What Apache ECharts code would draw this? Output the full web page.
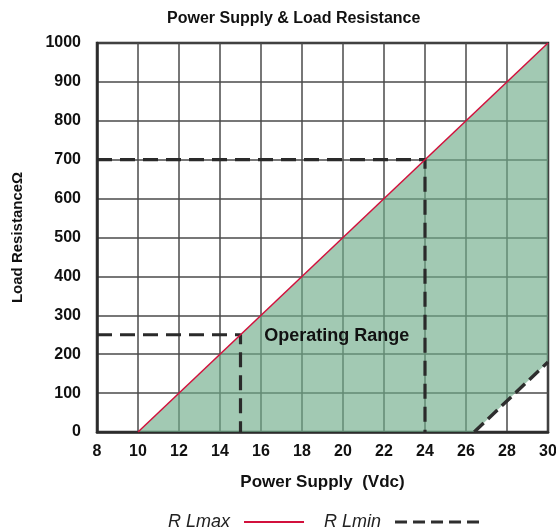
<!DOCTYPE html>
<html>
<head>
<meta charset="utf-8">
<script src="https://cdn.jsdelivr.net/npm/echarts@6/dist/echarts.min.js"></script>
<style>html,body{margin:0;padding:0;background:#fff;}#c{width:556px;height:529px;}</style>
</head>
<body>
<div id="c"></div>
<script>
// Data
const xTicks = [8, 10, 12, 14, 16, 18, 20, 22, 24, 26, 28, 30];
const yTicks = [0, 100, 200, 300, 400, 500, 600, 700, 800, 900, 1000];
const rLmax = [[10, 0], [30, 1000]];
const rLmin = [[26.4, 0], [30, 180]];
const operatingRange = [[10, 0], [30, 1000], [30, 180], [26.4, 0]];
const guide24 = [[8, 700], [24, 700], [24, 0]];
const guide15 = [[8, 250], [15, 250], [15, 0]];
const rangeLabel = [[19.7, 247]];

const FONT = '"Liberation Sans", Arial, Helvetica, sans-serif';
const chart = echarts.init(document.getElementById('c'));
chart.setOption({
  animation: false,
  backgroundColor: '#fff',
  title: {
    text: 'Power Supply & Load Resistance',
    top: 11, left: 167,
    padding: 0,
    textStyle: { fontFamily: FONT, fontWeight: 'bold', fontSize: 16, color: '#111' }
  },
  grid: { left: 97, right: 8, top: 43, bottom: 97, outerBoundsMode: 'none', containLabel: false,
    show: true, borderColor: '#2b2b2b', borderWidth: 2.5, backgroundColor: 'transparent' },
  legend: [
    { data: [{ name: 'R Lmax', icon: 'rect' }], left: 163, top: 508, align: 'right', itemWidth: 60, itemHeight: 2, itemGap: 0,
      textStyle: { fontFamily: FONT, fontStyle: 'italic', fontSize: 18, color: '#222', padding: [0, 9, 0, 0] }, selectedMode: false },
    { data: [{ name: 'R Lmin', icon: 'path://M0,0h12v3h-12z M18,0h12v3h-12z M36,0h12v3h-12z M54,0h12v3h-12z M72,0h12v3h-12z' }],
      left: 319, top: 508, align: 'right', itemWidth: 84, itemHeight: 3, itemGap: 0,
      textStyle: { fontFamily: FONT, fontStyle: 'italic', fontSize: 18, color: '#222', padding: [0, 9, 0, 0] }, selectedMode: false }
  ],
  xAxis: {
    type: 'value', min: 8, max: 30, interval: 2,
    name: 'Power Supply  (Vdc)', nameLocation: 'middle', nameGap: 42,
    nameTextStyle: { fontFamily: FONT, fontWeight: 'bold', fontSize: 17, color: '#111' },
    axisLine: { show: true, lineStyle: { color: '#2b2b2b', width: 2.5 } },
    axisTick: { show: false },
    axisLabel: { fontFamily: FONT, fontWeight: 'bold', fontSize: 16, color: '#111', margin: 12,
      formatter: v => xTicks.includes(v) ? String(v) : '' },
    splitLine: { show: true, lineStyle: { color: '#4a4a4a', width: 1.5 } }
  },
  yAxis: {
    type: 'value', min: 0, max: 1000, interval: 100,
    name: 'Load ResistanceΩ', nameLocation: 'middle', nameGap: 72, nameRotate: 90,
    nameTextStyle: { fontFamily: FONT, fontWeight: 'bold', fontSize: 15, color: '#111' },
    axisLine: { show: true, lineStyle: { color: '#2b2b2b', width: 2.5 } },
    axisTick: { show: false },
    axisLabel: { fontFamily: FONT, fontWeight: 'bold', fontSize: 16, color: '#111', margin: 16,
      formatter: v => yTicks.includes(v) ? String(v) : '' },
    splitLine: { show: true, lineStyle: { color: '#4a4a4a', width: 1.5 } }
  },
  series: [
    {
      type: 'custom', name: 'area', silent: true, z: 1,
      data: [0],
      renderItem: function (params, api) {
        const pts = operatingRange.map(p => api.coord(p));
        return { type: 'polygon', shape: { points: pts }, style: { fill: 'rgba(112,172,138,0.65)' } };
      }
    },
    {
      type: 'line', name: 'guide24', data: guide24, symbol: 'none', z: 3,
      lineStyle: { color: '#2a2a2a', width: 3.2, type: [15, 8] }
    },
    {
      type: 'line', name: 'guide15', data: guide15, symbol: 'none', z: 3,
      lineStyle: { color: '#2a2a2a', width: 3.2, type: [15, 8] }
    },
    {
      type: 'line', name: 'R Lmax', data: rLmax, symbol: 'none', z: 4,
      lineStyle: { color: '#d2103c', width: 1.5 }, itemStyle: { color: '#d2103c' }
    },
    {
      type: 'line', name: 'R Lmin', data: rLmin, symbol: 'none', z: 4,
      lineStyle: { color: '#2e2e2e', width: 3.4, type: [13, 6] }, itemStyle: { color: '#2e2e2e' }
    },
    {
      type: 'scatter', name: 'label', data: rangeLabel, symbolSize: 0, z: 5, silent: true,
      itemStyle: { opacity: 1 },
      label: { show: true, position: 'inside', formatter: 'Operating Range',
        fontFamily: FONT, fontWeight: 'bold', fontSize: 18, color: '#111', opacity: 1 }
    }
  ]
});
</script>
</body>
</html>
